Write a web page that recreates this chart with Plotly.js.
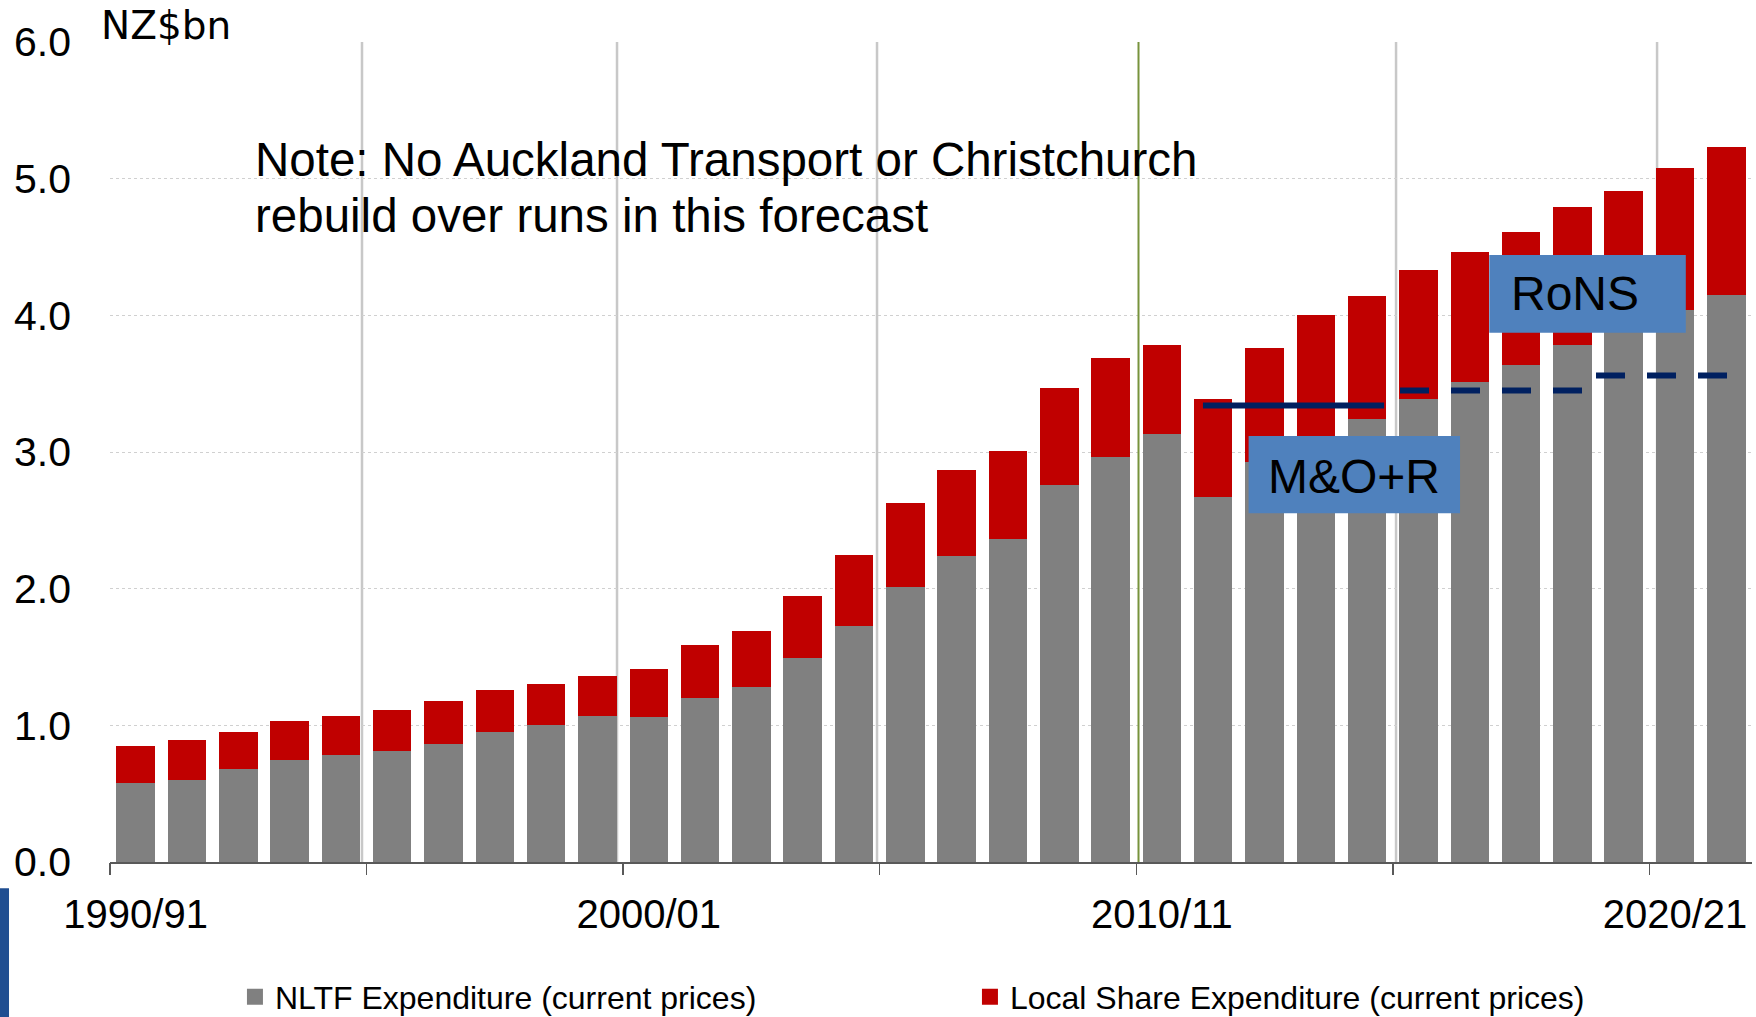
<!DOCTYPE html>
<html>
<head>
<meta charset="utf-8">
<script src="https://cdn.plot.ly/plotly-3.0.1.min.js"></script>
<style>
  html, body { margin: 0; padding: 0; background: #ffffff; }
  #chart { width: 1756px; height: 1017px; }
</style>
</head>
<body>
<div id="chart"></div>
<script>
// ---------------- DATA ----------------
const years = [
  '1990/91','1991/92','1992/93','1993/94','1994/95','1995/96','1996/97','1997/98','1998/99','1999/00',
  '2000/01','2001/02','2002/03','2003/04','2004/05','2005/06','2006/07','2007/08','2008/09','2009/10',
  '2010/11','2011/12','2012/13','2013/14','2014/15','2015/16','2016/17','2017/18','2018/19','2019/20',
  '2020/21','2021/22'
];
// NLTF Expenditure (current prices), NZ$bn
const nltf = [
  0.58, 0.60, 0.68, 0.75, 0.78, 0.81, 0.86, 0.95, 1.00, 1.07,
  1.06, 1.20, 1.28, 1.49, 1.73, 2.01, 2.24, 2.36, 2.76, 2.96,
  3.13, 2.67, 2.93, 3.08, 3.24, 3.39, 3.51, 3.64, 3.78, 3.92,
  4.04, 4.15
];
// Local Share Expenditure (current prices), NZ$bn
const localShare = [
  0.27, 0.29, 0.27, 0.28, 0.29, 0.30, 0.32, 0.31, 0.30, 0.29,
  0.35, 0.39, 0.41, 0.46, 0.52, 0.62, 0.63, 0.65, 0.71, 0.73,
  0.65, 0.72, 0.83, 0.92, 0.90, 0.94, 0.95, 0.97, 1.01, 0.99,
  1.04, 1.08
];
const seriesNames = ['NLTF Expenditure (current prices)', 'Local Share Expenditure (current prices)'];
const xTickLabels = ['1990/91', '2000/01', '2010/11', '2020/21'];
const yTickValues = [0, 1, 2, 3, 4, 5, 6];
const unitLabel = 'NZ$bn';
const noteLines = ['Note: No Auckland Transport or Christchurch', 'rebuild over runs in this forecast'];
const boxLabels = ['M&O+R', 'RoNS'];

// M&O+R funding level line (x in bar-index units, y in NZ$bn)
const morCommittedX = [20.80, 24.33];
const morCommittedY = [3.34, 3.34];
const morForecastX1 = [24.64, 28.19];
const morForecastY1 = [3.45, 3.45];
const morForecastX2 = [28.46, 31.03];
const morForecastY2 = [3.56, 3.56];

// ---------------- STYLE ----------------
const FONT = 'Liberation Sans, Arial, sans-serif';
const GRAY = '#808080';
const RED = '#C00000';
const NAVY = '#002060';
const BOXBLUE = '#4F81BD';
const nCat = years.length;

const lineStyle = { color: NAVY, width: 6 };

const traces = [
  { type: 'bar', name: seriesNames[0], legendgroup: 'a', showlegend: false, x: years, y: nltf,
    marker: { color: GRAY, line: { width: 0 } }, hoverinfo: 'x+y' },
  { type: 'bar', name: seriesNames[1], legendgroup: 'b', showlegend: false, x: years, y: localShare,
    marker: { color: RED, line: { width: 0 } }, hoverinfo: 'x+y' },
  // legend keys (square swatches)
  { type: 'scatter', mode: 'markers', name: seriesNames[0], legendgroup: 'a', x: [null], y: [null],
    marker: { symbol: 'square', size: 16, color: GRAY }, hoverinfo: 'skip' },
  { type: 'scatter', mode: 'markers', name: seriesNames[1], legendgroup: 'b', x: [null], y: [null],
    marker: { symbol: 'square', size: 16, color: RED }, hoverinfo: 'skip' },
  { type: 'scatter', mode: 'lines', x: morCommittedX, y: morCommittedY, xaxis: 'x2', yaxis: 'y',
    line: Object.assign({}, lineStyle), showlegend: false, hoverinfo: 'skip' },
  { type: 'scatter', mode: 'lines', x: morForecastX1, y: morForecastY1, xaxis: 'x2', yaxis: 'y',
    line: Object.assign({ dash: '29px,22px' }, lineStyle), showlegend: false, hoverinfo: 'skip' },
  { type: 'scatter', mode: 'lines', x: morForecastX2, y: morForecastY2, xaxis: 'x2', yaxis: 'y',
    line: Object.assign({ dash: '29px,22px' }, lineStyle), showlegend: false, hoverinfo: 'skip' }
];

// boundary ticks every 5 bars
const boundaryTicks = [];
for (let i = -0.5; i < nCat - 1; i += 5) boundaryTicks.push(i);

const vGrid = [4.411, 9.381, 14.448, 24.563, 29.650];
const shapes = [];
vGrid.forEach(v => shapes.push({
  type: 'line', xref: 'x2', yref: 'y', x0: v, x1: v, y0: 0, y1: 6,
  line: { color: '#C8C8C8', width: 2.5 }, layer: 'below'
}));
shapes.push({ type: 'line', xref: 'x2', yref: 'y', x0: 19.544, x1: 19.544, y0: 0, y1: 6.02,
  line: { color: '#77933C', width: 2 }, layer: 'above' });
// label boxes
shapes.push({ type: 'rect', xref: 'x2', yref: 'y', x0: 21.69, x1: 25.81, y0: 2.551, y1: 3.117,
  fillcolor: BOXBLUE, line: { width: 0 }, layer: 'above' });
shapes.push({ type: 'rect', xref: 'x2', yref: 'y', x0: 26.38, x1: 30.21, y0: 3.873, y1: 4.441,
  fillcolor: BOXBLUE, line: { width: 0 }, layer: 'above' });
// decorative strip at bottom-left edge
shapes.push({ type: 'rect', xref: 'paper', yref: 'paper', x0: -0.0670, x1: -0.0615, y0: -0.2, y1: -0.032,
  fillcolor: '#1F4E91', line: { width: 0 }, layer: 'above' });

const annotations = [
  { xref: 'paper', yref: 'paper', x: -0.0065, y: 1.0201, xanchor: 'left', yanchor: 'middle',
    text: unitLabel, showarrow: false, font: { family: 'DejaVu Sans, sans-serif', size: 39, color: '#000' } },
  { xref: 'paper', yref: 'y', x: 0.0869, y: 5.138, xanchor: 'left', yanchor: 'middle',
    text: noteLines[0], showarrow: false, font: { family: FONT, size: 47.5, color: '#000' } },
  { xref: 'paper', yref: 'y', x: 0.0869, y: 4.728, xanchor: 'left', yanchor: 'middle',
    text: noteLines[1], showarrow: false, font: { family: FONT, size: 47.5, color: '#000' } },
  { xref: 'x2', yref: 'y', x: 22.03, y: 2.822, xanchor: 'left', yanchor: 'middle',
    text: boxLabels[0], showarrow: false, font: { family: FONT, size: 48, color: '#000' } },
  { xref: 'x2', yref: 'y', x: 26.77, y: 4.157, xanchor: 'left', yanchor: 'middle',
    text: boxLabels[1], showarrow: false, font: { family: FONT, size: 48, color: '#000' } }
];

const layout = {
  width: 1756, height: 1017,
  margin: { l: 110, r: 4, t: 42, b: 155, autoexpand: false },
  paper_bgcolor: '#ffffff', plot_bgcolor: '#ffffff',
  font: { family: FONT, color: '#000' },
  barmode: 'stack', bargap: 0.25,
  showlegend: true,
  legend: {
    orientation: 'h', x: 0.0761, xanchor: 'left', y: -0.131, yanchor: 'top',
    font: { family: FONT, size: 32, color: '#000' }, traceorder: 'normal', itemsizing: 'trace',
    entrywidth: 690, entrywidthmode: 'pixels', bgcolor: 'rgba(0,0,0,0)'
  },
  xaxis: {
    type: 'category', categoryorder: 'array', categoryarray: years,
    range: [-0.5, nCat - 0.5], tickvals: xTickLabels, ticktext: xTickLabels,
    ticks: '', showgrid: false, zeroline: false,
    showline: true, linecolor: '#595959', linewidth: 2,
    tickfont: { family: FONT, size: 40, color: '#000' }, ticklabelstandoff: 16, fixedrange: true
  },
  xaxis2: {
    overlaying: 'x', anchor: 'y', side: 'bottom', type: 'linear',
    range: [-0.5, nCat - 0.5], tickvals: boundaryTicks, ticks: 'outside', ticklen: 12, tickwidth: 1.5,
    tickcolor: '#595959', showticklabels: false, showgrid: false, zeroline: false, showline: false, fixedrange: true
  },
  yaxis: {
    range: [0, 6], tickvals: yTickValues, tickformat: '.1f', ticks: '',
    showgrid: true, gridcolor: '#D0D0D0', gridwidth: 1, griddash: 'dot',
    zeroline: false, showline: false,
    tickfont: { family: FONT, size: 41, color: '#000' }, ticklabelstandoff: 38, fixedrange: true
  },
  shapes: shapes,
  annotations: annotations
};

Plotly.newPlot('chart', traces, layout, { displayModeBar: false, staticPlot: true });
</script>
</body>
</html>
